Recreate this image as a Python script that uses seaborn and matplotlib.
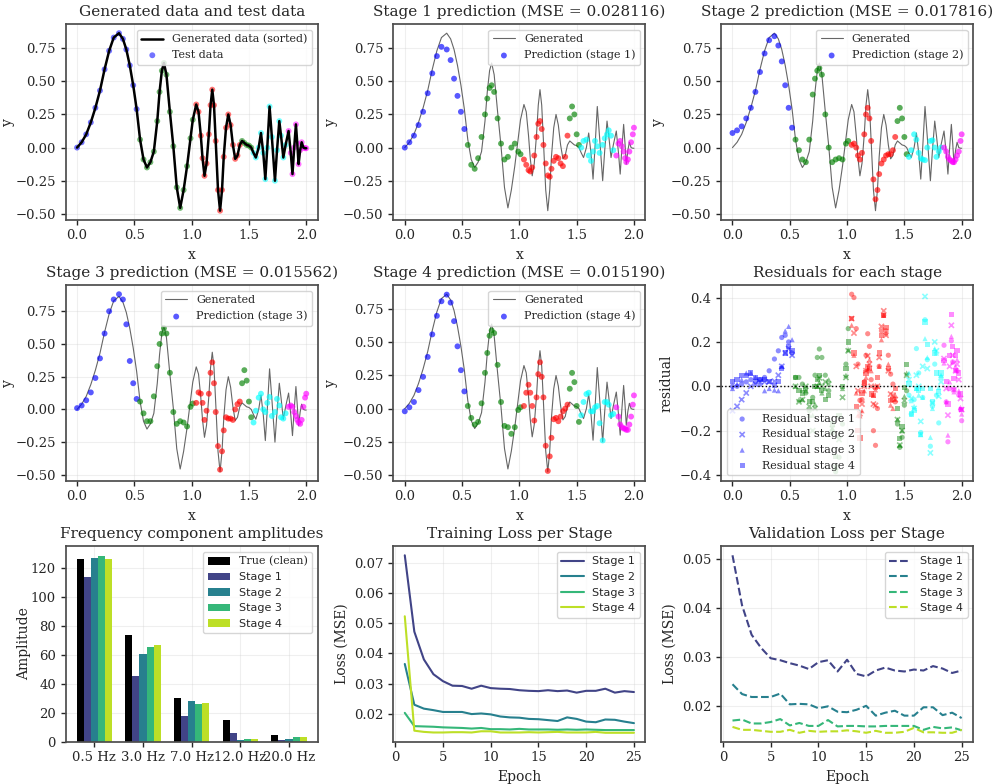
import seaborn as sns
import matplotlib.pyplot as plt
import numpy as np
import pandas as pd

# sample positions (sorted test inputs) and the clean generated signal
x_pts = [0.00, 0.04, 0.08, 0.12, 0.16, 0.20, 0.24, 0.28, 0.32, 0.366, 0.40, 0.43, 0.46, 0.49, 0.52,
         0.55, 0.58, 0.61, 0.64, 0.67, 0.70, 0.72, 0.74, 0.758, 0.78, 0.81, 0.84, 0.87, 0.90, 0.93, 0.96, 0.99, 1.01,
         1.04, 1.06, 1.08, 1.095, 1.112, 1.13, 1.15, 1.165, 1.18, 1.195, 1.21, 1.23, 1.248, 1.265, 1.28, 1.30,
         1.32, 1.34, 1.36, 1.38, 1.40, 1.42,
         1.44, 1.46, 1.48, 1.50, 1.52,
         1.54, 1.56, 1.585, 1.605, 1.625, 1.643, 1.66, 1.68, 1.70, 1.727, 1.745, 1.765, 1.78, 1.80, 1.82,
         1.846, 1.865, 1.88, 1.895, 1.91, 1.922, 1.933, 1.947, 1.96, 1.975, 1.99, 2.00]
y_true = [0.00, 0.04, 0.10, 0.19, 0.30, 0.43, 0.59, 0.73, 0.83, 0.863, 0.82, 0.74, 0.62, 0.47, 0.29,
          0.06, -0.09, -0.15, -0.11, -0.03, 0.20, 0.42, 0.58, 0.638, 0.55, 0.27, 0.01, -0.30, -0.455, -0.32, -0.14, 0.07, 0.21,
          0.325, 0.27, 0.09, -0.08, -0.213, -0.12, 0.10, 0.32, 0.437, 0.32, 0.05, -0.32, -0.476, -0.32, -0.07, 0.15,
          0.25, 0.17, 0.02, -0.085, -0.06, 0.02,
          0.05, 0.035, 0.02, 0.015, 0.0,
          -0.04, -0.075, 0.0, 0.11, -0.04, -0.238, 0.0, 0.31, 0.08, -0.25, -0.02, 0.20, 0.09, -0.075, 0.02,
          0.125, -0.04, -0.20, 0.0, 0.175, 0.03, -0.125, -0.02, 0.04, 0.0, -0.005, -0.005]

pred_s1 = [0.00, 0.04, 0.09, 0.17, 0.27, 0.41, 0.56, 0.69, 0.76, 0.74, 0.66, 0.52, 0.39, 0.27, 0.14,
           0.02, -0.13, -0.16, -0.08, 0.08, 0.25, 0.37, 0.45, 0.47, 0.42, 0.22, 0.03, -0.09, -0.07, 0.0, 0.03, -0.03, -0.05,
           -0.09, -0.13, -0.17, -0.18, -0.15, -0.06, 0.08, 0.18, 0.20, 0.14, 0.02, -0.12, -0.21, -0.22, -0.16, -0.10,
           -0.07, -0.08, -0.12, -0.14, -0.07, 0.09,
           0.22, 0.31, 0.25, 0.10, 0.02,
           0.0, 0.05, 0.06, -0.06, -0.10, -0.03, 0.05, 0.01, -0.04, 0.02, 0.07, 0.10, 0.13, 0.09, -0.02,
           -0.06, 0.03, 0.05, 0.01, -0.03, -0.08, -0.11, -0.09, -0.03, 0.04, 0.10, 0.15]
pred_s2 = [0.11, 0.13, 0.16, 0.22, 0.30, 0.42, 0.57, 0.71, 0.81, 0.84, 0.77, 0.65, 0.47, 0.30, 0.15,
           0.06, -0.02, -0.09, -0.11, 0.06, 0.40, 0.52, 0.58, 0.60, 0.55, 0.25, 0.0, -0.11, -0.09, -0.08, -0.09, 0.03, 0.05,
           0.02, 0.03, 0.0, -0.06, -0.09, -0.04, 0.10, 0.25, 0.30, 0.22, 0.05, -0.24, -0.39, -0.32, -0.20, -0.12,
           -0.09, -0.06, -0.05, -0.05, -0.02, 0.08,
           0.20, 0.30, 0.22, 0.08, -0.05,
           -0.07, -0.02, 0.10, 0.06, -0.04, -0.08, -0.09, -0.095, 0.0, 0.05, 0.055, 0.0, -0.07, -0.03, 0.0,
           0.0, -0.03, -0.07, -0.09, -0.10, -0.11, -0.11, -0.09, -0.06, -0.03, 0.05, 0.10]
pred_s3 = [0.01, 0.03, 0.07, 0.13, 0.24, 0.39, 0.58, 0.75, 0.84, 0.88, 0.84, 0.65, 0.37, 0.20, 0.08,
           0.06, -0.03, -0.09, -0.09, 0.10, 0.33, 0.50, 0.58, 0.62, 0.58, 0.28, -0.02, -0.11, -0.09, -0.10, -0.13, 0.02, 0.045,
           0.05, 0.13, 0.12, 0.05, -0.08, -0.01, 0.12, 0.28, 0.36, 0.20, -0.02, -0.28, -0.46, -0.32, -0.16, -0.06,
           -0.07, -0.07, -0.08, 0.0, 0.04, 0.06,
           0.20, 0.30, 0.22, 0.06, -0.06,
           -0.10, -0.01, 0.09, 0.12, 0.0, -0.02, 0.05, 0.095, -0.05, -0.02, 0.08, 0.03, -0.06, -0.07, -0.03,
           0.02, 0.03, 0.02, -0.02, -0.05, -0.08, -0.10, -0.11, -0.08, 0.02, 0.09, 0.12]
pred_s4 = [-0.02, 0.01, 0.05, 0.14, 0.24, 0.39, 0.56, 0.70, 0.81, 0.86, 0.80, 0.66, 0.47, 0.29, 0.13,
           0.02, -0.07, -0.12, -0.10, 0.04, 0.27, 0.42, 0.55, 0.59, 0.57, 0.33, 0.05, -0.13, -0.14, -0.19, -0.14, -0.01, 0.01,
           0.02, 0.12, 0.18, 0.12, 0.02, -0.09, 0.085, 0.26, 0.35, 0.24, 0.085, -0.28, -0.47, -0.36, -0.22, -0.08,
           -0.07, -0.095, -0.06, -0.02, 0.0, 0.03,
           0.15, 0.27, 0.20, 0.02, -0.10,
           -0.05, 0.05, 0.11, 0.12, -0.02, -0.02, 0.01, 0.02, -0.11, -0.24, 0.05, 0.05, 0.03, -0.05, -0.04,
           0.01, -0.06, -0.12, -0.14, -0.15, -0.15, -0.16, -0.16, -0.12, -0.06, 0.03, 0.10]
stage_preds = [pred_s1, pred_s2, pred_s3, pred_s4]
stage_mse = ["0.028116", "0.017816", "0.015562", "0.015190"]

# x-ranges of the colour groups of the test points
group_ranges = [(0.0, 0.53, "blue"), (0.53, 1.025, "green"), (1.025, 1.43, "red"),
                (1.43, 1.53, "green"), (1.53, 1.835, "cyan"), (1.835, 2.01, "magenta")]

# frequency amplitudes
freq_labels = ["0.5 Hz", "3.0 Hz", "7.0 Hz", "12.0 Hz", "20.0 Hz"]
amp_true = [126.2, 73.4, 30.5, 14.9, 4.6]
amp_s1 = [114.0, 45.2, 17.7, 6.0, 1.1]
amp_s2 = [127.1, 60.3, 28.0, 1.1, 1.8]
amp_s3 = [128.5, 65.2, 25.9, 1.8, 3.2]
amp_s4 = [126.4, 66.5, 26.6, 1.8, 3.2]

# loss curves
epochs = list(range(1, 26))
train_s1 = [0.0725, 0.0472, 0.0380, 0.0331, 0.0308, 0.0293, 0.0292, 0.0283, 0.0293, 0.0285, 0.0283, 0.0282, 0.0278,
            0.0276, 0.0275, 0.0278, 0.0275, 0.0277, 0.0270, 0.0276, 0.0276, 0.0283, 0.0270, 0.0275, 0.0272]
train_s2 = [0.0365, 0.0230, 0.0217, 0.0212, 0.0206, 0.0206, 0.0206, 0.0199, 0.0201, 0.0198, 0.0191, 0.0188, 0.0187,
            0.0183, 0.0182, 0.0179, 0.0176, 0.0188, 0.0183, 0.0174, 0.0172, 0.0181, 0.0180, 0.0174, 0.0169]
train_s3 = [0.0203, 0.0159, 0.0158, 0.0157, 0.0155, 0.0154, 0.0153, 0.0151, 0.0153, 0.0149, 0.0149, 0.0148, 0.0150,
            0.0148, 0.0148, 0.0148, 0.0147, 0.0148, 0.0147, 0.0148, 0.0147, 0.0146, 0.0146, 0.0146, 0.0146]
train_s4 = [0.0523, 0.0144, 0.0140, 0.0138, 0.0138, 0.0139, 0.0139, 0.0138, 0.0142, 0.0142, 0.0138, 0.0138, 0.0138,
            0.0139, 0.0138, 0.0139, 0.0140, 0.0138, 0.0138, 0.0138, 0.0140, 0.0137, 0.0137, 0.0137, 0.0137]
val_s1 = [0.0507, 0.0405, 0.0345, 0.0318, 0.0297, 0.0293, 0.0287, 0.0282, 0.0275, 0.0289, 0.0293, 0.0270, 0.0294,
          0.0265, 0.0260, 0.0272, 0.0278, 0.0272, 0.0270, 0.0274, 0.0272, 0.0281, 0.0276, 0.0267, 0.0272]
val_s2 = [0.0244, 0.0224, 0.0218, 0.0218, 0.0218, 0.0225, 0.0203, 0.0204, 0.0203, 0.0195, 0.0199, 0.0188, 0.0187,
          0.0192, 0.0200, 0.0180, 0.0186, 0.0190, 0.0180, 0.0180, 0.0197, 0.0197, 0.0181, 0.0186, 0.0175]
val_s3 = [0.0170, 0.0172, 0.0164, 0.0164, 0.0167, 0.0173, 0.0160, 0.0165, 0.0159, 0.0159, 0.0171, 0.0158, 0.0159,
          0.0159, 0.0158, 0.0158, 0.0159, 0.0159, 0.0159, 0.0159, 0.0151, 0.0157, 0.0154, 0.0156, 0.0150]
val_s4 = [0.0157, 0.0151, 0.0151, 0.0149, 0.0147, 0.0147, 0.0151, 0.0145, 0.0149, 0.0147, 0.0148, 0.0148, 0.0150,
          0.0148, 0.0145, 0.0149, 0.0145, 0.0145, 0.0147, 0.0155, 0.0146, 0.0146, 0.0145, 0.0145, 0.0151]

sns.set_style("ticks")
plt.rcParams['font.family'] = ['DejaVu Serif']
plt.rcParams['axes.edgecolor'] = '0.3'
plt.rcParams['axes.linewidth'] = 1.25
plt.rcParams['axes.titlesize'] = 11
plt.rcParams['axes.labelsize'] = 10

x_arr = np.array(x_pts)
y_arr = np.array(y_true)


def group_color(x):
    for lo, hi, c in group_ranges:
        if lo <= x < hi:
            return c
    return group_ranges[-1][2]


pt_colors = [group_color(v) for v in x_pts]
stage_colors = [plt.cm.viridis(v) for v in [0.2, 0.433, 0.667, 0.9]]

fig, axes = plt.subplots(3, 3, figsize=(9.94, 7.84), dpi=100)
fig.subplots_adjust(left=0.066, right=0.979, top=0.969, bottom=0.054, wspace=0.3, hspace=0.337)

# generated data and test data
ax = axes[0, 0]
sns.lineplot(x=x_pts, y=y_true, color='black', lw=1.8, sort=False, ax=ax, label='Generated data (sorted)')
ax.scatter(x_arr, y_arr, c=pt_colors, s=18, alpha=0.55, lw=0, label='Test data', zorder=1)
ax.set_title('Generated data and test data')
ax.set_xlabel('x')
ax.set_ylabel('y')
ax.legend(loc='upper right', fontsize=8)

# stage predictions
pred_axes = [axes[0, 1], axes[0, 2], axes[1, 0], axes[1, 1]]
for i, ax in enumerate(pred_axes):
    sns.lineplot(x=x_pts, y=y_true, color='0.4', lw=0.8, sort=False, ax=ax, label='Generated')
    ax.scatter(x_arr, stage_preds[i], c=pt_colors, s=18, alpha=0.65, lw=0,
               label=f'Prediction (stage {i + 1})', zorder=3)
    ax.set_title(f'Stage {i + 1} prediction (MSE = {stage_mse[i]})')
    ax.set_xlabel('x')
    ax.set_ylabel('y')
    ax.legend(loc='upper right', fontsize=8)

# residuals
ax = axes[1, 2]
markers = ['o', 'x', '^', 's']
for i, pred in enumerate(stage_preds):
    res = y_arr - np.array(pred)
    ax.scatter(x_arr, res, c=pt_colors, s=14, alpha=0.45, marker=markers[i],
               lw=0 if markers[i] != 'x' else 1.2, label=f'Residual stage {i + 1}')
ax.axhline(0, color='black', ls=':', lw=1)
ax.set_title('Residuals for each stage')
ax.set_xlabel('x')
ax.set_ylabel('residual')
ax.set_yticks([-0.4, -0.2, 0.0, 0.2, 0.4])
ax.legend(loc='lower left', fontsize=8)

# frequency component amplitudes
ax = axes[2, 0]
series_names = ['True (clean)', 'Stage 1', 'Stage 2', 'Stage 3', 'Stage 4']
amp_df = pd.DataFrame({
    'freq': freq_labels * 5,
    'series': np.repeat(series_names, len(freq_labels)),
    'amp': amp_true + amp_s1 + amp_s2 + amp_s3 + amp_s4,
})
sns.barplot(data=amp_df, x='freq', y='amp', hue='series', palette=['black'] + stage_colors,
            width=0.73, saturation=1, ax=ax, linewidth=0)
ax.set_xlim(-0.59, 4.59)
ax.set_title('Frequency component amplitudes')
ax.set_xlabel('')
ax.set_ylabel('Amplitude')
ax.legend(loc='upper right', fontsize=8)

# training / validation losses
for ax, curves, ls, title in [(axes[2, 1], [train_s1, train_s2, train_s3, train_s4], '-', 'Training Loss per Stage'),
                              (axes[2, 2], [val_s1, val_s2, val_s3, val_s4], '--', 'Validation Loss per Stage')]:
    for i, vals in enumerate(curves):
        sns.lineplot(x=epochs, y=vals, color=stage_colors[i], ls=ls, lw=1.5, ax=ax, label=f'Stage {i + 1}')
    ax.set_title(title)
    ax.set_xlabel('Epoch')
    ax.set_ylabel('Loss (MSE)')
    ax.set_xticks([0, 5, 10, 15, 20, 25])
    ax.legend(loc='upper right', fontsize=8)

for ax in axes.flat:
    ax.grid(True, alpha=0.3)
    ax.tick_params(direction='out', length=3.5, width=1, labelsize=9.5)
    leg = ax.get_legend()
    if leg is not None:
        for t in leg.get_texts():
            if t.get_text().startswith('Stage'):
                t.set_family('DejaVu Sans')

# left column labels sit a little closer to the ticks
for ax in axes[:, 0]:
    ax.yaxis.labelpad = 0

fig.savefig('out.png', dpi=100)
